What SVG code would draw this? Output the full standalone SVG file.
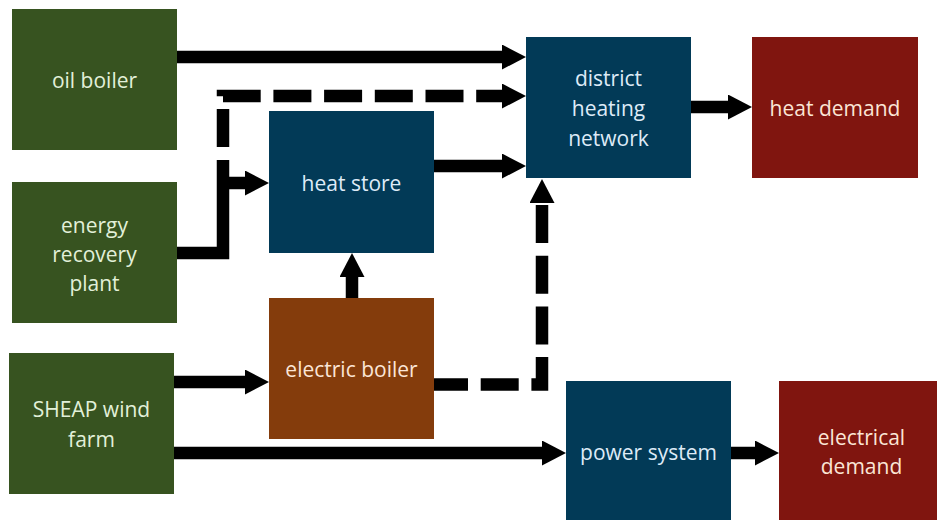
<svg xmlns="http://www.w3.org/2000/svg" width="937" height="520" viewBox="0 0 937 520">
<style>
.g{fill:#375320}
.b{fill:#023A57}
.o{fill:#843C0C}
.r{fill:#80150F}
text{font-family:"Open Sans","Liberation Sans",sans-serif;font-size:21px;text-anchor:middle}
.tg{fill:#E2F0D9}
.tb{fill:#DEEBF7}
.to{fill:#FBE5D6}
.tr{fill:#FBE5D6}
.c{fill:none;stroke:#000;stroke-width:12.5;stroke-linejoin:miter}
.a{marker-end:url(#ah)}
.d{stroke-dasharray:38 12.7}
</style>
<defs>
<marker id="ah" viewBox="0 0 24 25" refX="4" refY="12.5" markerWidth="24" markerHeight="25" markerUnits="userSpaceOnUse" orient="auto">
<path d="M0,0 L24,12.5 L0,25 z" fill="#000"/>
</marker>
</defs>
<g id="connectors">
<path class="c a" d="M177,57 H506"/>
<path class="c a d" d="M223,147 V96 H506"/>
<path class="c" d="M177,253 H223 V160"/>
<path class="c a" d="M223,183 H249"/>
<path class="c a" d="M434,166 H506"/>
<path class="c a" d="M691,107 H732"/>
<path class="c a" d="M352,298 V273"/>
<path class="c a d" d="M430,384.5 H542 V199"/>
<path class="c a" d="M174,382 H249"/>
<path class="c a" d="M174,453 H546"/>
<path class="c a" d="M731,453 H759"/>
</g>
<g id="oil-boiler"><rect class="g" x="12" y="9" width="165" height="141"/><text class="tg" x="94.5" y="88">oil boiler</text></g>
<g id="energy-recovery-plant"><rect class="g" x="12" y="182" width="165" height="141"/><text class="tg" x="94.5" y="233">energy</text><text class="tg" x="94.5" y="262">recovery</text><text class="tg" x="94.5" y="291">plant</text></g>
<g id="sheap-wind-farm"><rect class="g" x="9" y="353" width="165" height="141"/><text class="tg" x="91.5" y="417">SHEAP wind</text><text class="tg" x="91.5" y="447">farm</text></g>
<g id="heat-store"><rect class="b" x="269" y="111" width="165" height="142"/><text class="tb" x="351.5" y="191">heat store</text></g>
<g id="electric-boiler"><rect class="o" x="269" y="298" width="165" height="141"/><text class="to" x="351.5" y="377">electric boiler</text></g>
<g id="district-heating-network"><rect class="b" x="526" y="37" width="165" height="141"/><text class="tb" x="608.5" y="86">district</text><text class="tb" x="608.5" y="116">heating</text><text class="tb" x="608.5" y="146">network</text></g>
<g id="heat-demand"><rect class="r" x="752" y="37" width="166" height="141"/><text class="tr" x="835" y="116">heat demand</text></g>
<g id="power-system"><rect class="b" x="566" y="381" width="165" height="139"/><text class="tb" x="648.5" y="460">power system</text></g>
<g id="electrical-demand"><rect class="r" x="779" y="381" width="165" height="139"/><text class="tr" x="861.5" y="445">electrical</text><text class="tr" x="861.5" y="474">demand</text></g>
</svg>
